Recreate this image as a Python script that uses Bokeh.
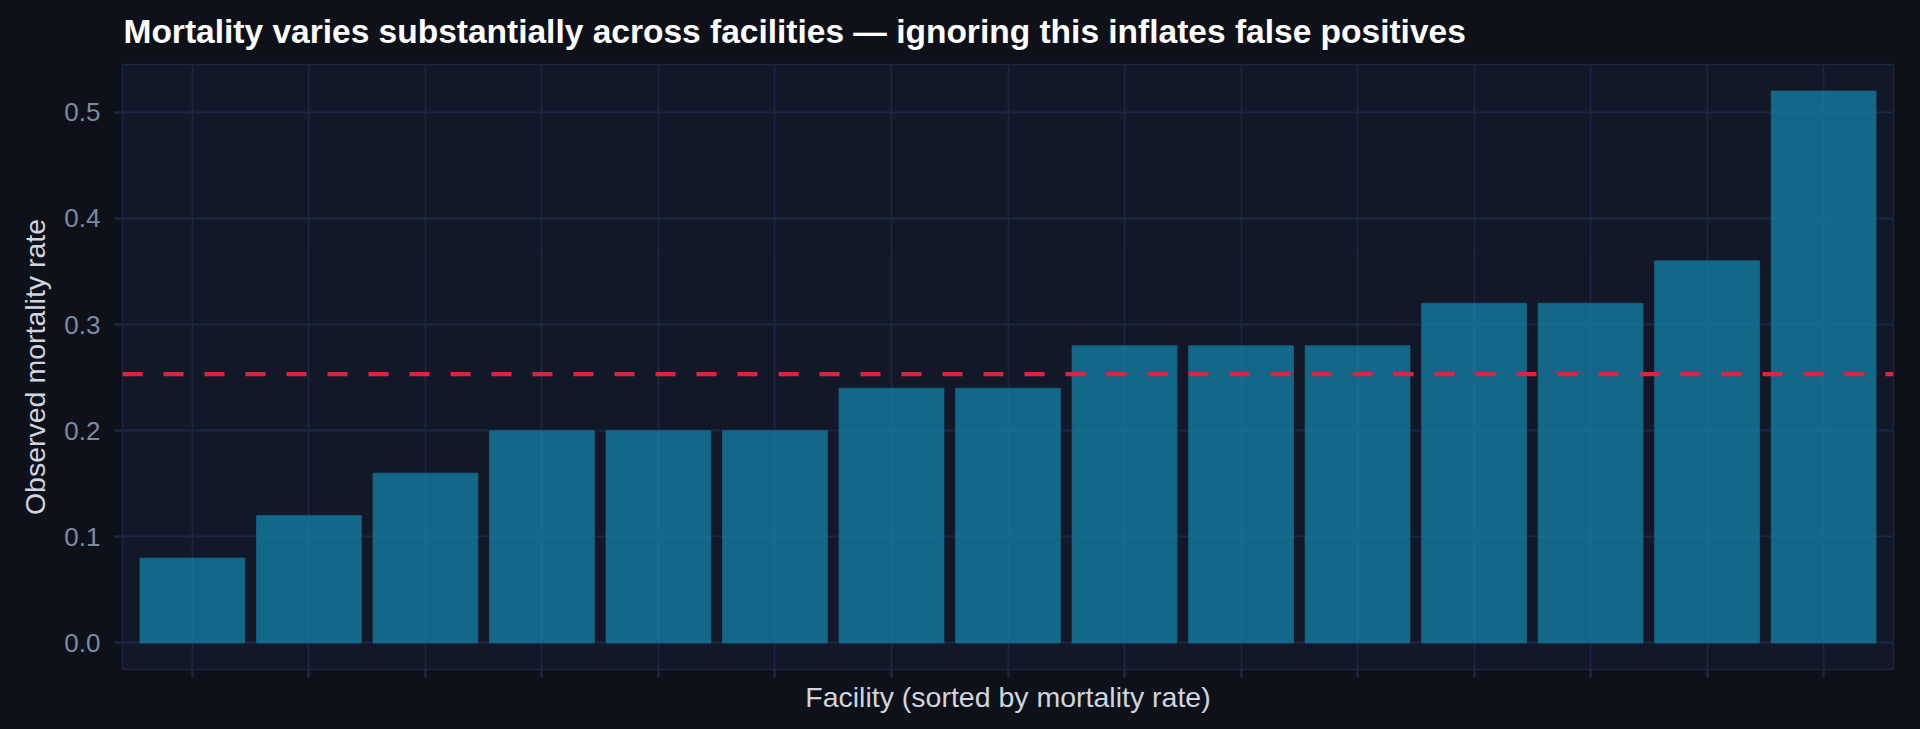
import numpy as np
from bokeh.plotting import figure
from bokeh.models import (Range1d, FixedTicker, PrintfTickFormatter, Span, ColumnDataSource,
                          CustomJSTickFormatter, LinearAxis)
from bokeh.embed import file_html
from bokeh.resources import INLINE

# Data
facility_index = list(range(15))
mortality_rate = [0.08, 0.12, 0.16, 0.20, 0.20, 0.20, 0.24, 0.24, 0.28, 0.28, 0.28, 0.32, 0.32, 0.36, 0.52]
y_ticks = [0.0, 0.1, 0.2, 0.3, 0.4, 0.5]
title_text = "Mortality varies substantially across facilities \u2014 ignoring this inflates false positives"
x_label = "Facility (sorted by mortality rate)"
y_label = "Observed mortality rate"

PAGE_BG = "#0e1119"
PLOT_BG = "#121827"
GRID = "#1b2740"
BAR = "#14779c"
RED = "#dc243c"
FONT = "Liberation Sans"

p = figure(width=1904, height=713, output_backend="svg", toolbar_location=None,
           x_range=Range1d(-0.6, 14.6), y_range=Range1d(-0.025, 0.545),
           min_border_left=114, min_border_right=19, min_border_top=56, min_border_bottom=52)

p.background_fill_color = PLOT_BG
p.border_fill_color = PAGE_BG
p.outline_line_color = GRID
p.outline_line_width = 1.5

bottom_axis = p.below[0]
left_axis = p.left[0]

# Invisible spacer axis between title and frame (lifts the title without moving the frame)
spacer = LinearAxis(ticker=FixedTicker(ticks=[facility_index[0]]),
                    formatter=CustomJSTickFormatter(code="return '';"),
                    axis_line_color=None, major_tick_line_color=None, minor_tick_line_color=None,
                    major_tick_out=14, major_tick_in=0, major_label_standoff=0,
                    major_label_text_font_size="1px", axis_label_standoff=0)
p.add_layout(spacer, "above")

# Title
p.title.text = title_text
p.title.text_font = FONT
p.title.text_font_size = "33.5px"
p.title.text_font_style = "bold"
p.title.text_color = "#ffffff"
p.title.align = "left"
p.title.offset = 1
p.title.standoff = 2

# Grids
p.xgrid.ticker = FixedTicker(ticks=facility_index)
p.ygrid.ticker = FixedTicker(ticks=y_ticks)
for g in (p.xgrid, p.ygrid):
    g.grid_line_color = GRID
    g.grid_line_width = 1.8

# Bars
src = ColumnDataSource(dict(x=facility_index, top=mortality_rate))
p.vbar(x="x", top="top", width=0.9, bottom=0, source=src,
       fill_color=BAR, fill_alpha=0.85, line_color="#156585", line_width=1, line_alpha=0.8)

# Mean reference line
mean_rate = float(np.mean(mortality_rate))
p.add_layout(Span(location=mean_rate, dimension="width", line_color=RED,
                  line_width=4.3, line_dash="20 21"))

# Axes
bottom_axis.ticker = FixedTicker(ticks=facility_index)
bottom_axis.formatter = CustomJSTickFormatter(code="return '';")
left_axis.ticker = FixedTicker(ticks=y_ticks)
left_axis.formatter = PrintfTickFormatter(format="%.1f")
for ax in (bottom_axis, left_axis):
    ax.axis_line_color = None
    ax.major_tick_line_color = GRID
    ax.major_tick_line_width = 2.5
    ax.major_tick_out = 8
    ax.major_tick_in = 0
    ax.minor_tick_line_color = None
    ax.axis_label_text_font = FONT
    ax.axis_label_text_font_size = "28.5px"
    ax.axis_label_text_font_style = "normal"
    ax.axis_label_text_color = "#d0d5de"
    ax.major_label_text_font = FONT
    ax.major_label_text_color = "#7d8aa3"

bottom_axis.axis_label = x_label
left_axis.axis_label = y_label
bottom_axis.major_label_text_font_size = "1px"
bottom_axis.major_label_standoff = 0
bottom_axis.axis_label_standoff = 3
left_axis.major_label_text_font_size = "26px"
left_axis.major_label_standoff = 14
left_axis.axis_label_standoff = 10

html = file_html(p, INLINE)
html = html.replace("<body>", '<body style="margin:8px;background-color:%s;">' % PAGE_BG)
open("out.html", "w").write(html)
